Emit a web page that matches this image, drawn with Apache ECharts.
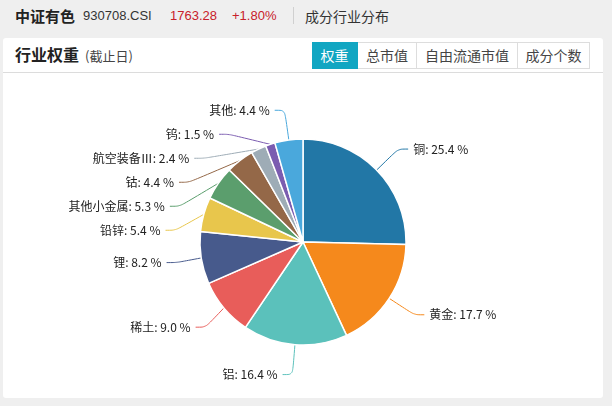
<!DOCTYPE html>
<html>
<head>
<meta charset="utf-8">
<script src="https://cdn.jsdelivr.net/npm/echarts@6/dist/echarts.min.js"></script>
<style>
  html, body { margin: 0; padding: 0; width: 612px; height: 406px; overflow: hidden; background: #efefef;
    font-family: "Liberation Sans", "Noto Sans CJK SC", sans-serif; color: #333; }
  .top { position: absolute; left: 0; top: 0; width: 612px; height: 30px; }
  .top span { position: absolute; top: 6px; line-height: 20px; white-space: nowrap; }
  .top .name { left: 15px; font-size: 15px; font-weight: bold; color: #222; font-family: "Noto Sans CJK SC"; }
  .top .code { left: 83px; font-size: 13px; color: #333; }
  .top .red { font-size: 13px; color: #c8202a; }
  .top .sep { left: 293px; top: 7px; width: 1px; height: 17px; background: #d0d0d0; }
  .top .sub { left: 305px; font-size: 14px; color: #333; font-family: "Noto Sans CJK SC"; }
  .card { position: absolute; left: 3px; top: 38px; width: 600px; height: 360px; background: #fff; border-radius: 3px; }
  .card .head { position: absolute; left: 0; top: 0; width: 600px; height: 34px; border-bottom: 1px solid #dcdcdc; }
  .card .title { position: absolute; left: 12px; top: 2px; line-height: 28px; white-space: nowrap; font-family: "Noto Sans CJK SC"; }
  .card .title b { font-size: 16px; color: #222; font-weight: bold; }
  .card .title span { font-size: 13px; color: #444; margin-left: 6px; }
  .tabs { position: absolute; left: 309px; top: 4px; height: 27px; display: flex; font-family: "Noto Sans CJK SC"; }
  .tabs div { box-sizing: border-box; height: 27px; font-size: 14px; line-height: 25px; text-align: center; color: #444;
    border: 1px solid #ddd; border-left: none; }
  .tabs .on { background: #11a6c2; color: #fff; border-color: #11a6c2; }
  #chart { position: absolute; left: 0; top: 0; width: 612px; height: 406px; }
</style>
</head>
<body>
<div class="top">
  <span class="name">中证有色</span><span class="code">930708.CSI</span><span class="red" style="left:170px">1763.28</span><span class="red" style="left:232px">+1.80%</span><span class="sep"></span><span class="sub">成分行业分布</span>
</div>
<div class="card">
  <div class="head">
    <div class="title"><b>行业权重</b><span>(截止日)</span></div>
    <div class="tabs"><div class="on" style="width:46px">权重</div><div style="width:59px">总市值</div><div style="width:101px">自由流通市值</div><div style="width:72px">成分个数</div></div>
  </div>
</div>
<div id="chart"></div>
<script>
  // 行业 / 权重(%)
  const industries = ['铜', '黄金', '铝', '稀土', '锂', '铅锌', '其他小金属', '钴', '航空装备Ⅲ', '钨', '其他'];
  const weights = [25.4, 17.7, 16.4, 9.0, 8.2, 5.4, 5.3, 4.4, 2.4, 1.5, 4.4];
  const colors = ['#2277a6', '#f5891c', '#5bc1bb', '#e85d5a', '#475a8c', '#e8c64c', '#5b9e6d', '#946848', '#9eacb6', '#7b5cb0', '#4aa8dc'];

  const chart = echarts.init(document.getElementById('chart'));
  chart.setOption({
    animation: false,
    color: colors,
    series: [{
      type: 'pie',
      center: [303, 242],
      radius: 103,
      startAngle: 90,
      clockwise: true,
      itemStyle: { borderColor: '#fff', borderWidth: 1.5 },
      label: {
        formatter: function (p) { return p.name + ': ' + p.value.toFixed(1) + ' %'; },
        color: '#222',
        fontSize: 12,
        lineHeight: 22,
        fontFamily: 'Noto Sans CJK SC'
      },
      labelLine: { length: 30, length2: 10, smooth: true, lineStyle: { width: 1 } },
      data: industries.map((n, i) => ({ name: n, value: weights[i] }))
    }]
  });
</script>
</body>
</html>
